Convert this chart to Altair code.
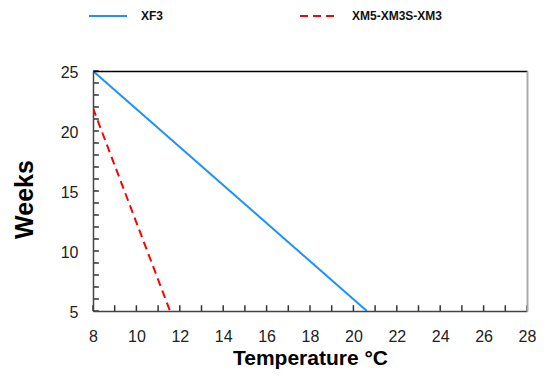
import altair as alt
import pandas as pd

series_names = ["XF3", "XM5-XM3S-XM3"]
xf3_temp = [8.0, 20.62]
xf3_weeks = [25.0, 5.0]
xm_temp = [8.0, 11.55]
xm_weeks = [21.9, 5.0]

x_ticks = list(range(8, 29))
y_ticks = list(range(5, 26))
x_min, y_min = 8, 5
x_tick_len, y_tick_len = 0.27, 0.48

rows = []
for t, w in zip(xf3_temp, xf3_weeks):
    rows.append({"series": series_names[0], "temp": t, "weeks": w})
for t, w in zip(xm_temp, xm_weeks):
    rows.append({"series": series_names[1], "temp": t, "weeks": w})
df = pd.DataFrame(rows)
xt_df = pd.DataFrame({"temp": x_ticks})
yt_df = pd.DataFrame({"weeks": y_ticks})

FONT = "Liberation Sans"
xscale = alt.Scale(domain=[8, 28], nice=False, zero=False)
yscale = alt.Scale(domain=[5, 25], nice=False, zero=False)

legend_cfg = dict(title=None, orient="none", legendX=-5, legendY=-75,
                  direction="horizontal", columns=2, columnPadding=132,
                  symbolType="stroke", symbolSize=1444, symbolStrokeWidth=2,
                  labelFont=FONT, labelFontSize=12, labelFontWeight="bold",
                  labelColor="#111111", labelOffset=13)

main = alt.Chart(df).mark_line(strokeWidth=2, clip=True).encode(
    x=alt.X("temp:Q", scale=xscale,
            axis=alt.Axis(orient="bottom", values=x_ticks, grid=False, zindex=2,
                          ticks=False, domainColor="#444444", domainWidth=1.5,
                          labelExpr="datum.value % 2 == 0 ? datum.label : ''",
                          labelFont=FONT, labelFontSize=16, labelColor="#222222",
                          labelPadding=17, labelFlush=False, labelOverlap=False,
                          title="Temperature °C", titleFont=FONT, titleFontSize=21,
                          titleFontWeight="bold", titleColor="#000000", titlePadding=3)),
    y=alt.Y("weeks:Q", scale=yscale,
            axis=alt.Axis(orient="left", values=y_ticks, grid=False, zindex=2,
                          ticks=False, domainColor="#444444", domainWidth=1.5,
                          labelExpr="datum.value % 5 == 0 ? datum.label : ''",
                          labelFont=FONT, labelFontSize=16, labelColor="#222222",
                          labelAlign="right", labelBaseline="middle", labelPadding=15,
                          labelOffset=1, labelFlush=False, labelOverlap=False,
                          title="Weeks", titleFont=FONT, titleFontSize=25, titleY=128,
                          titleFontWeight="bold", titleColor="#000000", titlePadding=23)),
    color=alt.Color("series:N",
                    scale=alt.Scale(domain=series_names, range=["#1E90FF", "#FF0000"]),
                    legend=alt.Legend(**legend_cfg)),
    strokeDash=alt.StrokeDash("series:N",
                              scale=alt.Scale(domain=series_names, range=[[1, 0], [8, 5]]),
                              legend=alt.Legend(**legend_cfg)),
)

xticks_layer = alt.Chart(xt_df).transform_calculate(
    base=f"{y_min}", top=f"{y_min + y_tick_len}"
).mark_rule(color="#333333", strokeWidth=1.5).encode(
    x=alt.X("temp:Q", scale=xscale, axis=None),
    y=alt.Y("base:Q", scale=yscale, axis=None),
    y2="top:Q",
)

yticks_layer = alt.Chart(yt_df).transform_calculate(
    base=f"{x_min}", right=f"{x_min + x_tick_len}"
).mark_rule(color="#333333", strokeWidth=1.5).encode(
    y=alt.Y("weeks:Q", scale=yscale, axis=None),
    x=alt.X("base:Q", scale=xscale, axis=None),
    x2="right:Q",
)

frame = alt.Chart(df).mark_line(strokeOpacity=0).encode(
    x=alt.X("temp:Q", scale=xscale,
            axis=alt.Axis(orient="top", labels=False, ticks=False, grid=False, zindex=2,
                          domainColor="#000000", domainWidth=1.5, title=None)),
    y=alt.Y("weeks:Q", scale=yscale,
            axis=alt.Axis(orient="right", labels=False, ticks=False, grid=False, zindex=2,
                          domainColor="#aaaaaa", domainWidth=2, title=None)),
    detail="series:N",
)

chart = alt.layer(main, frame, xticks_layer, yticks_layer).resolve_axis(
    x="independent", y="independent"
).properties(
    width=434, height=240,
    padding={"left": 85, "top": 63, "right": 9, "bottom": 59},
    autosize=alt.AutoSizeParams(type="none"),
).configure_view(stroke=None)

chart.save("out.html", embed_options={"renderer": "svg", "actions": False})
